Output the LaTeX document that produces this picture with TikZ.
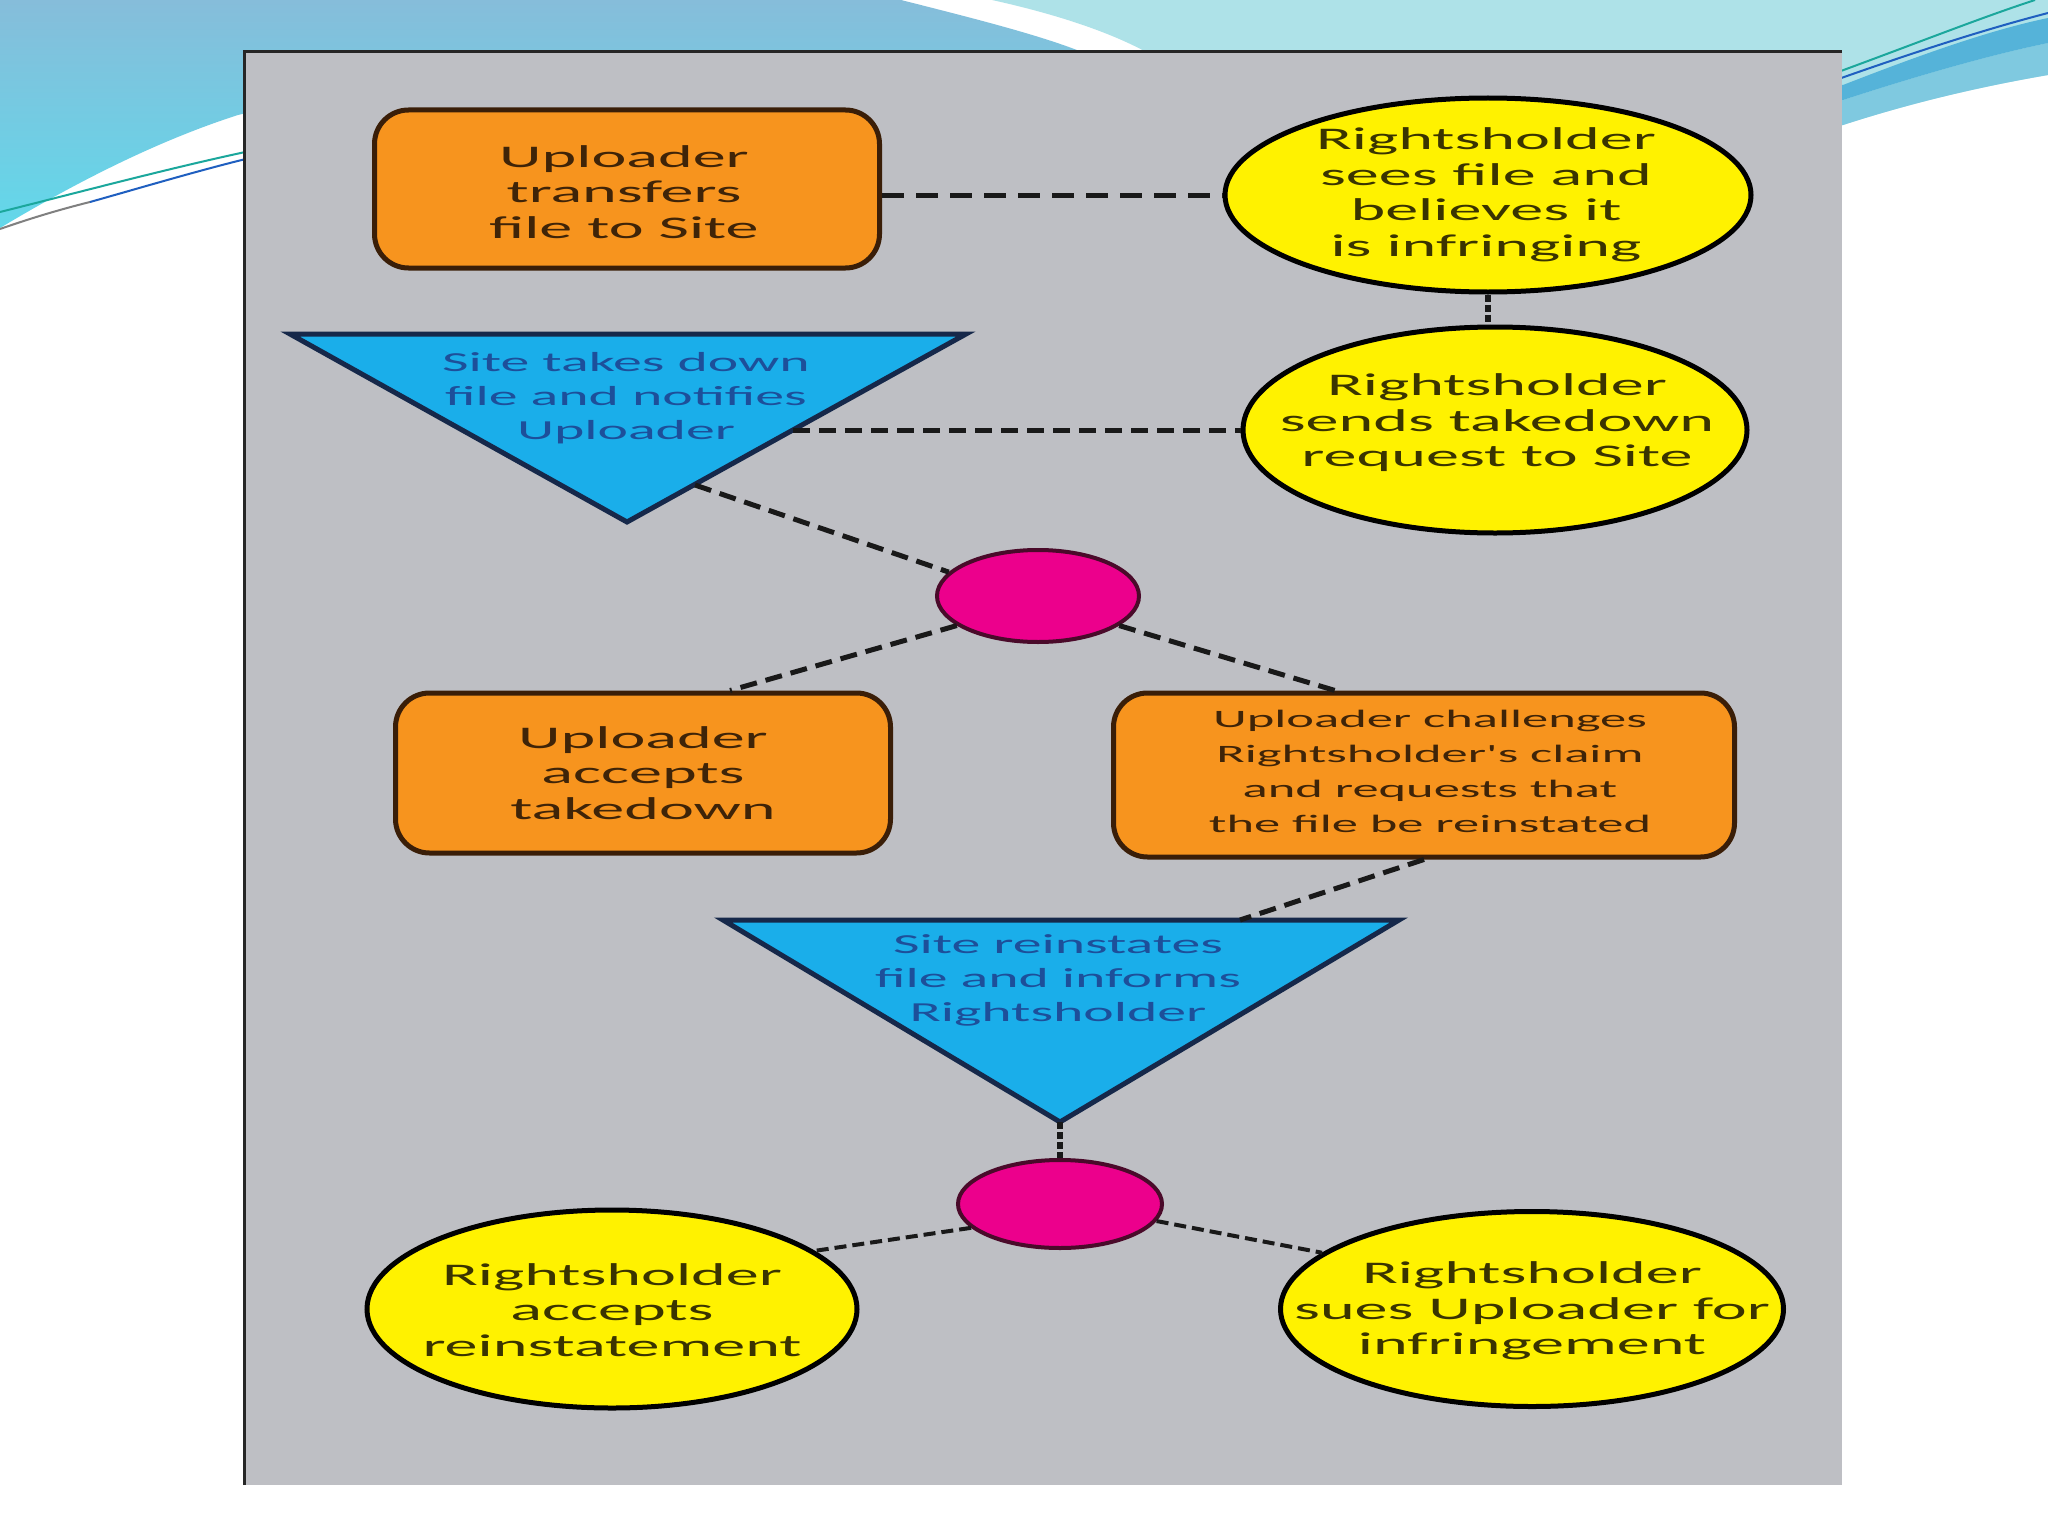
\documentclass[tikz,border=0pt]{standalone}
\usepackage{fontspec}
\setmainfont{Carlito}
\newfontfamily\wfont[FakeStretch=2.1]{Carlito}
\usetikzlibrary{shapes.geometric,calc}
\definecolor{bluetop}{HTML}{86BDDA}
\definecolor{cyanbot}{HTML}{62D8EA}
\definecolor{lteal}{HTML}{AEE2E8}
\definecolor{midblue}{HTML}{55B3D9}
\definecolor{litblue}{HTML}{7FC9E0}
\definecolor{panelgray}{HTML}{BEBFC4}
\definecolor{orangef}{HTML}{F7941E}
\definecolor{orangeb}{HTML}{3A1E08}
\definecolor{yellowf}{HTML}{FFF200}
\definecolor{trif}{HTML}{1AAEEA}
\definecolor{trib}{HTML}{16284A}
\definecolor{magf}{HTML}{EC008C}
\definecolor{magb}{HTML}{4A0A2A}
\definecolor{boxtxt}{HTML}{3F2408}
\definecolor{elltxt}{HTML}{3A3400}
\definecolor{tritxt}{HTML}{1D4F9A}
\definecolor{lgreen}{HTML}{1BA79C}
\definecolor{lblue}{HTML}{1F5FC0}
\begin{document}
\begin{tikzpicture}[x=1pt,y=-1pt,
  orbox/.style={draw=orangeb, fill=orangef, line width=5pt, rounded corners=34pt, inner sep=0pt},
  boxtext/.style={align=center, text=boxtxt, font=\wfont\fontsize{31.5}{35.5}\selectfont, inner sep=0pt},
  yell/.style={ellipse, draw=black, fill=yellowf, line width=5pt, inner sep=0pt},
  elltext/.style={align=center, text=elltxt, font=\wfont\fontsize{31.5}{35.5}\selectfont, inner sep=0pt},
  magell/.style={ellipse, draw=magb, fill=magf, line width=4pt, inner sep=0pt},
  trishape/.style={draw=trib, fill=trif, line width=5pt, line join=miter},
  tritext/.style={align=center, text=tritxt, font=\wfont\fontsize{27.5}{34}\selectfont, inner sep=0pt},
  conn/.style={draw=black!90, line width=5pt},
  longdash/.style={conn, dash pattern=on 22pt off 12pt},
  middash/.style={conn, dash pattern=on 17pt off 9pt},
  tightdash/.style={conn, dash pattern=on 7pt off 3pt, line width=6pt},
  smalldash/.style={conn, line width=4pt, dash pattern=on 12pt off 6pt}
]
\useasboundingbox (0,0) rectangle (2048,1536);
\fill[white] (0,0) rectangle (2048,1536);
% --- slide decoration ---
\shade[top color=bluetop, bottom color=cyanbot]
  (0,0) -- (901,0) .. controls (980,20) and (1060,40) .. (1100,60) -- (1100,100)
  -- (300,100) -- (238,115) .. controls (160,140) and (80,180) .. (0,228) -- cycle;
\fill[lteal] (992,0) .. controls (1060,15) and (1120,35) .. (1160,60) -- (1820,60)
  -- (1820,130) -- (1843,125) .. controls (1920,100) and (1990,85) .. (2048,75)
  -- (2048,0) -- cycle;
\fill[litblue] (1820,100) -- (1843,100) .. controls (1920,75) and (1990,55) .. (2048,43)
  -- (2048,75) .. controls (1990,85) and (1920,100) .. (1843,125) -- (1820,130) -- cycle;
\fill[midblue] (1820,85) -- (1843,85) .. controls (1920,55) and (1990,30) .. (2048,18)
  -- (2048,43) .. controls (1990,55) and (1920,75) .. (1843,100) -- (1820,100) -- cycle;
\draw[lgreen, line width=2pt] (1830,75) .. controls (1920,42) and (1980,18) .. (2035,0);
\draw[lblue, line width=2pt] (1830,82) .. controls (1920,50) and (1990,28) .. (2048,13);
\draw[lgreen, line width=2pt] (0,212) .. controls (80,192) and (170,168) .. (250,151);
\draw[gray, line width=2pt] (0,229) .. controls (40,215) and (70,207) .. (90,202);
\draw[lblue, line width=2pt] (90,202) .. controls (140,188) and (200,170) .. (250,158);
% --- panel ---
\fill[panelgray] (244,52) rectangle (1842,1485);
\draw[black!85, line width=3pt] (244,1485) -- (244,52) -- (1842,52);
% --- shapes ---
\node[orbox, minimum width=505pt, minimum height=158pt] (box1) at (627,189) {};
\node[boxtext] (box1t) at (624,192) {Uploader\\transfers\\file to Site};
\node[yell, minimum width=526pt, minimum height=194pt] (e1) at (1488,195) {};
\node[elltext] (e1t) at (1486,195) {Rightsholder\\sees file and\\believes it\\is infringing};
\node[yell, minimum width=504pt, minimum height=206pt] (e2) at (1495,430) {};
\node[elltext] (e2t) at (1497,423) {Rightsholder\\sends takedown\\request to Site};
\filldraw[trishape] (290,334) -- (966,334) -- (627,522) -- cycle;
\node[tritext] (t1) at (626,398) {Site takes down\\file and notifies\\Uploader};
\coordinate (t1r) at (793,430);
\coordinate (t1d) at (695,485);
\node[magell, minimum width=202pt, minimum height=92pt] (m1) at (1038,596) {};
\node[orbox, minimum width=495pt, minimum height=160pt] (box2) at (643,773) {};
\node[boxtext] (box2t) at (643,773) {Uploader\\accepts\\takedown};
\node[orbox, minimum width=621pt, minimum height=164pt] (box3) at (1424,775) {};
\node[boxtext, font=\wfont\fontsize{25}{35}\selectfont] (box3t) at (1430,771)
  {Uploader challenges\\Rightsholder's claim\\and requests that\\the file be reinstated};
\filldraw[trishape] (723,920) -- (1399,920) -- (1060,1122) -- cycle;
\node[tritext] (t2) at (1058,980) {Site reinstates\\file and informs\\Rightsholder};
\coordinate (t2top) at (1240,920);
\coordinate (t2apex) at (1060,1122);
\node[magell, minimum width=204pt, minimum height=88pt] (m2) at (1060,1204) {};
\node[yell, minimum width=490pt, minimum height=198pt] (e3) at (612,1309) {};
\node[elltext] (e3t) at (612,1310) {Rightsholder\\accepts\\reinstatement};
\node[yell, minimum width=503pt, minimum height=195pt] (e4) at (1532,1309) {};
\node[elltext] (e4t) at (1532,1311) {Rightsholder\\sues Uploader for\\infringement};
% --- connectors ---
\draw[longdash] (box1.east |- e1.west) -- (e1.west);
\draw[tightdash] (e1.south) -- (e1.south |- e2.north);
\draw[middash] (t1r) -- (e2.west);
\draw[middash] (t1d) -- (m1.165);
\draw[middash] (m1.200) -- ([xshift=87pt]box2.north);
\draw[middash] (m1.340) -- ([xshift=-89pt]box3.north);
\draw[middash] (box3.south) -- (t2top);
\draw[tightdash] (t2apex) -- (m2.north);
\draw[smalldash] (m2.195) -- (e3.16);
\draw[smalldash] (m2.350) -- (e4.165);
\end{tikzpicture}
\end{document}
